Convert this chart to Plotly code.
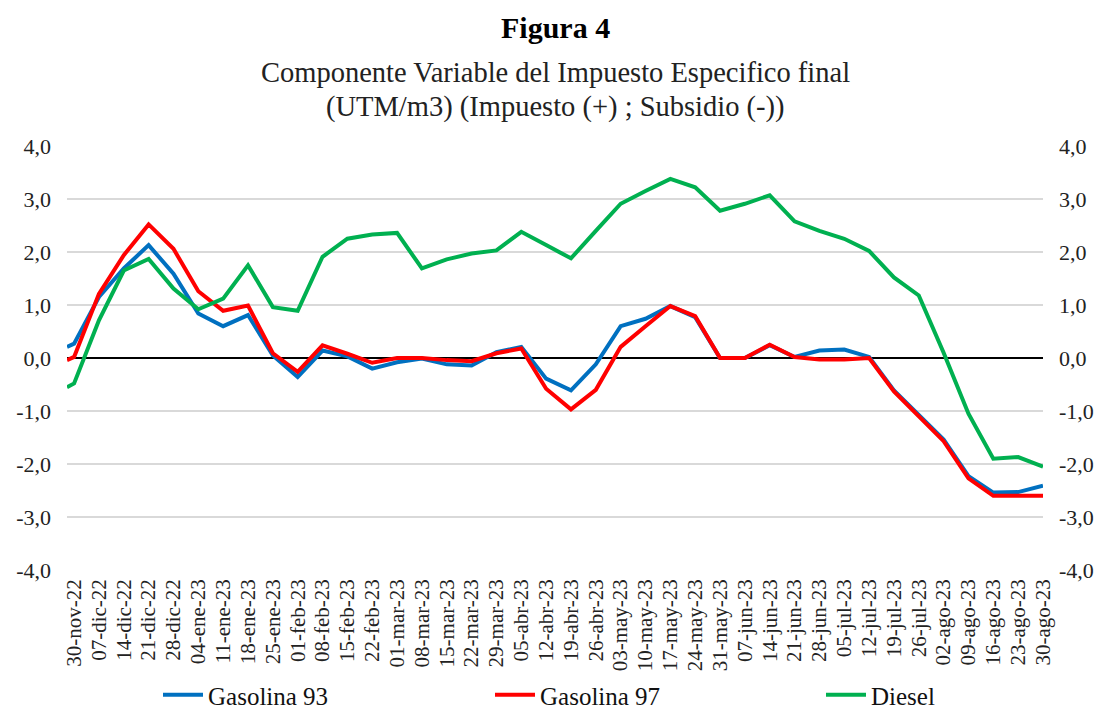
import plotly.graph_objects as go

# x values: one early point, then weekly dates
dates = ["2022-11-28"] + [
    "2022-11-30", "2022-12-07", "2022-12-14", "2022-12-21", "2022-12-28",
    "2023-01-04", "2023-01-11", "2023-01-18", "2023-01-25", "2023-02-01",
    "2023-02-08", "2023-02-15", "2023-02-22", "2023-03-01", "2023-03-08",
    "2023-03-15", "2023-03-22", "2023-03-29", "2023-04-05", "2023-04-12",
    "2023-04-19", "2023-04-26", "2023-05-03", "2023-05-10", "2023-05-17",
    "2023-05-24", "2023-05-31", "2023-06-07", "2023-06-14", "2023-06-21",
    "2023-06-28", "2023-07-05", "2023-07-12", "2023-07-19", "2023-07-26",
    "2023-08-02", "2023-08-09", "2023-08-16", "2023-08-23", "2023-08-30",
]
tick_dates = dates[1:]
tick_labels = [
    "30-nov-22", "07-dic-22", "14-dic-22", "21-dic-22", "28-dic-22",
    "04-ene-23", "11-ene-23", "18-ene-23", "25-ene-23", "01-feb-23",
    "08-feb-23", "15-feb-23", "22-feb-23", "01-mar-23", "08-mar-23",
    "15-mar-23", "22-mar-23", "29-mar-23", "05-abr-23", "12-abr-23",
    "19-abr-23", "26-abr-23", "03-may-23", "10-may-23", "17-may-23",
    "24-may-23", "31-may-23", "07-jun-23", "14-jun-23", "21-jun-23",
    "28-jun-23", "05-jul-23", "12-jul-23", "19-jul-23", "26-jul-23",
    "02-ago-23", "09-ago-23", "16-ago-23", "23-ago-23", "30-ago-23",
]

gasolina_93 = [0.21, 0.27, 1.15, 1.69, 2.13, 1.59, 0.84, 0.60, 0.81, 0.05,
               -0.36, 0.14, 0.03, -0.20, -0.08, -0.01, -0.12, -0.14, 0.11, 0.21,
               -0.39, -0.61, -0.12, 0.60, 0.74, 0.98, 0.77, 0.00, 0.00, 0.24,
               0.02, 0.14, 0.16, 0.02, -0.61, -1.08, -1.54, -2.23, -2.54, -2.53,
               -2.41]
gasolina_97 = [-0.04, 0.02, 1.21, 1.94, 2.52, 2.06, 1.26, 0.89, 0.99, 0.09,
               -0.26, 0.24, 0.08, -0.09, 0.00, 0.00, -0.04, -0.06, 0.09, 0.18,
               -0.58, -0.97, -0.60, 0.21, 0.60, 0.98, 0.79, 0.00, 0.00, 0.25,
               0.02, -0.03, -0.03, 0.00, -0.63, -1.10, -1.57, -2.27, -2.60, -2.60,
               -2.60]
diesel = [-0.55, -0.48, 0.71, 1.65, 1.87, 1.31, 0.92, 1.12, 1.75, 0.96,
          0.89, 1.91, 2.25, 2.33, 2.36, 1.69, 1.86, 1.97, 2.03, 2.38,
          2.13, 1.88, 2.40, 2.91, 3.15, 3.38, 3.22, 2.78, 2.91, 3.07,
          2.58, 2.40, 2.25, 2.02, 1.52, 1.18, 0.10, -1.05, -1.90, -1.87,
          -2.05]

y_ticks = [4, 3, 2, 1, 0, -1, -2, -3, -4]
y_tick_labels = ["4,0", "3,0", "2,0", "1,0", "0,0", "-1,0", "-2,0", "-3,0", "-4,0"]

FONT = "Liberation Serif"
TXT = "#222222"

plot_w = 1101 - 67 - 58
plot_h = 714 - 146 - 144
def py(pix):
    return (714 - 144 - pix) / plot_h
def px(pix):
    return (pix - 67) / plot_w

fig = go.Figure()
series = [("Gasolina 93", gasolina_93, "#0070C0", "legend"),
          ("Gasolina 97", gasolina_97, "#FF0000", "legend2"),
          ("Diesel", diesel, "#00B050", "legend3")]
for name, vals, color, lg in series:
    fig.add_trace(go.Scatter(x=dates, y=vals, name=name, mode="lines", legend=lg,
                             line=dict(color=color, width=4)))

# invisible trace for the right axis
fig.add_trace(go.Scatter(x=[dates[0]], y=[0], yaxis="y2", showlegend=False,
                         mode="markers", marker=dict(opacity=0), hoverinfo="skip"))

def legend_at(xpix):
    return dict(orientation="h", x=px(xpix), xanchor="left", y=py(695), yanchor="middle",
                font=dict(size=25, family=FONT, color="#111111"),
                itemwidth=40, bgcolor="rgba(0,0,0,0)")

fig.update_layout(
    width=1101, height=714,
    margin=dict(l=67, r=58, t=146, b=144, autoexpand=False),
    plot_bgcolor="white", paper_bgcolor="white",
    font=dict(family=FONT, color=TXT),
    showlegend=True,
    legend=legend_at(158),
    legend2=legend_at(490),
    legend3=legend_at(821),
    xaxis=dict(type="date", range=[dates[0], dates[-1]],
               tickmode="array", tickvals=tick_dates, ticktext=tick_labels,
               tickangle=-90, tickfont=dict(size=21, family=FONT, color=TXT),
               showgrid=False, zeroline=False, showline=False, ticks="",
               automargin=False, ticklabelstandoff=4),
    yaxis=dict(range=[-4, 4], tickmode="array", tickvals=y_ticks, ticktext=y_tick_labels,
               tickfont=dict(size=22, family=FONT, color=TXT),
               showgrid=True, gridcolor="#D9D9D9", gridwidth=1.5,
               zeroline=True, zerolinecolor="black", zerolinewidth=1.5,
               showline=False, ticks="", ticklabelstandoff=15, automargin=False),
    yaxis2=dict(range=[-4, 4], overlaying="y", side="right", tickmode="array",
                tickvals=y_ticks, ticktext=y_tick_labels,
                tickfont=dict(size=22, family=FONT, color=TXT),
                showgrid=False, zeroline=False, showline=False, ticks="",
                ticklabelstandoff=15, automargin=False),
)

fig.add_annotation(text="<b>Figura 4</b>", x=0.5, y=py(28), xref="paper", yref="paper",
                   showarrow=False, yanchor="middle",
                   font=dict(size=30, family=FONT, color="black"))
fig.add_annotation(text="Componente Variable del Impuesto Especifico final",
                   x=0.5, y=py(72), xref="paper", yref="paper", showarrow=False,
                   yanchor="middle", font=dict(size=28.5, family=FONT, color=TXT))
fig.add_annotation(text="(UTM/m3) (Impuesto (+) ; Subsidio (-))",
                   x=0.5, y=py(107), xref="paper", yref="paper", showarrow=False,
                   yanchor="middle", font=dict(size=28.5, family=FONT, color=TXT))

fig.write_html("out.html", config={"displayModeBar": False},
               post_script="document.body.style.margin='0';document.body.style.overflow='hidden';")
